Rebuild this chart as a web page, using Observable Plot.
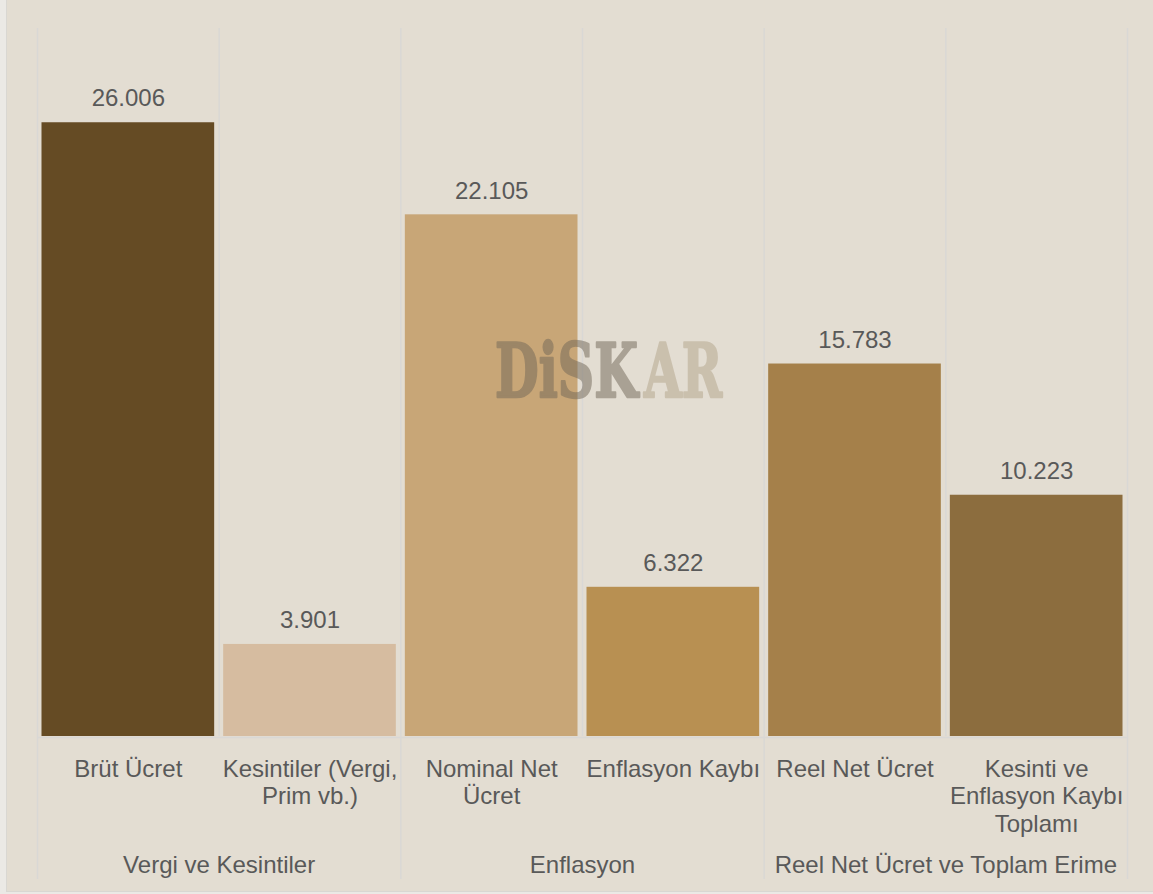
<!DOCTYPE html>
<html>
<head>
<meta charset="utf-8">
<script src="https://cdn.jsdelivr.net/npm/d3@7"></script>
<script src="https://cdn.jsdelivr.net/npm/@observablehq/plot@0.6"></script>
<style>
  html, body { margin: 0; padding: 0; background: #ebe9e5; }
  #wrap {
    position: absolute; left: 6px; top: 0;
    width: 1147px; height: 891px;
    background: #e3ddd2;
    border-left: 1px solid #d9d7d2;
    border-bottom: 1px solid #d9d7d2;
  }
  #wrap svg { display: block; }
</style>
</head>
<body>
<div id="wrap"></div>
<script>
// ---- data ----
const categories = [
  "Brüt Ücret",
  "Kesintiler (Vergi,\nPrim vb.)",
  "Nominal Net\nÜcret",
  "Enflasyon Kaybı",
  "Reel Net Ücret",
  "Kesinti ve\nEnflasyon Kaybı\nToplamı"
];
const values = [26006, 3901, 22105, 6322, 15783, 10223];
const groupOf = [
  "Vergi ve Kesintiler", "Vergi ve Kesintiler",
  "Enflasyon", "Enflasyon",
  "Reel Net Ücret ve Toplam Erime", "Reel Net Ücret ve Toplam Erime"
];
const barColors = ["#654b24", "#d6bca0", "#c8a677", "#b89052", "#a5804a", "#8c6d3e"];
const yDomain = [0, 30000];

// ---- derived tables ----
const data = categories.map((c, i) => ({i, category: c, value: values[i], group: groupOf[i], color: barColors[i]}));
const groupNames = [...new Set(groupOf)];
const groups = groupNames.map(g => {
  const idx = groupOf.map((v, i) => v === g ? i : -1).filter(i => i >= 0);
  return {group: g, start: d3.min(idx), end: d3.max(idx) + 1};
});
const groupEdges = [...new Set(groups.flatMap(g => [g.start, g.end]))];
const innerEdges = d3.range(1, categories.length).filter(e => !groupEdges.includes(e));

const fmt = d3.formatLocale({decimal: ",", thousands: ".", grouping: [3], currency: ["", ""]}).format(",d");

const font = "'Liberation Sans', Arial, Helvetica, sans-serif";
const textColor = "#595959";
const gridColor = "#d9d8d5";

const chart = Plot.plot({
  width: 1146,
  height: 890,
  marginLeft: 30,
  marginRight: 26,
  marginTop: 28,
  marginBottom: 154,
  style: {fontFamily: font, background: "transparent", overflow: "visible"},
  x: {domain: [0, categories.length], axis: null},
  y: {domain: yDomain, axis: null},
  color: {type: "identity"},
  marks: [
    Plot.ruleX(innerEdges, {x: d => d, stroke: gridColor, strokeWidth: 1.5}),
    Plot.ruleX(groupEdges, {x: d => d, stroke: gridColor, strokeWidth: 1.5, insetBottom: -143}),
    Plot.rectY(data, {x1: d => d.i, x2: d => d.i + 1, y: "value", fill: "color", insetLeft: 4.5, insetRight: 4.5}),
    Plot.ruleY([0], {stroke: gridColor, strokeWidth: 1.5, dy: 1}),
    Plot.text(data, {x: d => d.i + 0.5, y: "value", text: d => fmt(d.value), dy: -24, fontSize: 24, fill: textColor}),
    Plot.text(data, {x: d => d.i + 0.5, text: "category", frameAnchor: "bottom", lineAnchor: "top", dy: 21, lineHeight: 1.14, fontSize: 24, fill: textColor}),
    Plot.text(groups, {x: d => (d.start + d.end) / 2, text: "group", frameAnchor: "bottom", lineAnchor: "top", dy: 119, fontSize: 24, fill: textColor})
  ]
});

document.getElementById("wrap").appendChild(chart);

// watermark (logo), horizontally condensed with a transform
const svg = d3.select(chart);
function logoPart(str, x, len, color, opacity) {
  const g = svg.append("g").attr("opacity", opacity);
  const t = g.append("text")
    .attr("x", 0)
    .attr("y", 0)
    .attr("text-anchor", "start")
    .attr("font-family", "'DejaVu Serif', serif")
    .attr("font-weight", "bold")
    .attr("font-size", 75)
    .attr("fill", color)
    .attr("stroke", color)
    .attr("stroke-width", 2.5)
    .attr("stroke-linejoin", "round")
    .text(str);
  const natural = t.node().getComputedTextLength() || len;
  t.attr("transform", `translate(${x},397) scale(${len / natural},1)`);
}
logoPart("DiSK", 488, 143, "#716758", 0.5);
logoPart("AR", 637, 78, "#8b754e", 0.27);
</script>
</body>
</html>
